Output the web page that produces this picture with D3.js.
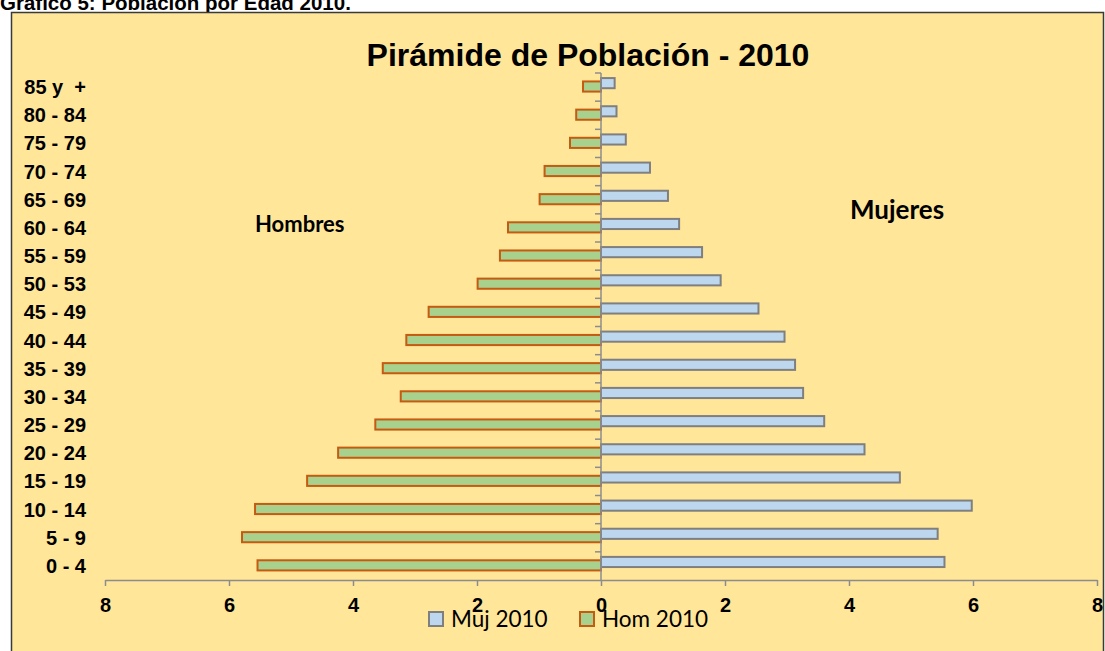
<!DOCTYPE html>
<html>
<head>
<meta charset="utf-8">
<script src="https://cdn.jsdelivr.net/npm/d3@7"></script>
<style>
  html, body { margin: 0; padding: 0; background: #ffffff; }
  svg { display: block; }
</style>
</head>
<body>
<svg id="chart" width="1105" height="651"></svg>
<script>
// Age groups, youngest first
const categories = ["0 - 4", "5 - 9", "10 - 14", "15 - 19", "20 - 24", "25 - 29", "30 - 34",
  "35 - 39", "40 - 44", "45 - 49", "50 - 53", "55 - 59", "60 - 64", "65 - 69", "70 - 74",
  "75 - 79", "80 - 84", "85 y  +"];
// Share of population (%) by age group
const mujeres2010 = [5.54, 5.43, 5.98, 4.82, 4.25, 3.60, 3.26, 3.13, 2.96, 2.54, 1.93, 1.63,
  1.26, 1.08, 0.79, 0.40, 0.25, 0.22];
const hombres2010 = [5.54, 5.79, 5.58, 4.74, 4.24, 3.64, 3.23, 3.52, 3.14, 2.78, 1.99, 1.63,
  1.50, 0.99, 0.91, 0.50, 0.40, 0.29];
const xTicks = [-8, -6, -4, -2, 0, 2, 4, 6, 8];
const seriesNames = ["Muj 2010", "Hom 2010"];

const arial = "'Liberation Sans', Arial, sans-serif";
const calibri = "Lato, 'Open Sans', sans-serif";

const svg = d3.select("#chart");

// Caption above the chart
svg.append("text")
  .attr("x", 0).attr("y", 9.5)
  .attr("font-family", arial).attr("font-weight", "bold").attr("font-size", 20.5)
  .attr("fill", "#000")
  .text("Gráfico 5: Población por Edad 2010.");

// Chart area
svg.append("rect")
  .attr("x", 11.5).attr("y", 12.5).attr("width", 1092).attr("height", 660)
  .attr("fill", "#ffe699").attr("stroke", "#3a3a3a").attr("stroke-width", 1.5);

svg.append("text")
  .attr("x", 588).attr("y", 66)
  .attr("text-anchor", "middle")
  .attr("font-family", arial).attr("font-weight", "bold").attr("font-size", 32)
  .attr("fill", "#000")
  .text("Pirámide de Población - 2010");

const x = d3.scaleLinear().domain([-8, 8]).range([105, 1097]);
const y = d3.scaleBand().domain(categories.slice().reverse()).range([73, 580]).padding(0);
const bw = y.bandwidth();

const rows = categories.map((c, i) => ({ c, muj: mujeres2010[i], hom: hombres2010[i] }));

// Men to the left of zero
svg.append("g").selectAll("rect")
  .data(rows).join("rect")
  .attr("x", d => x(-d.hom))
  .attr("y", d => y(d.c) + bw * 0.30)
  .attr("width", d => x(0) - x(-d.hom))
  .attr("height", bw * 0.36)
  .attr("fill", "#a9d18e").attr("stroke", "#c55a11").attr("stroke-width", 2);

// Women to the right of zero
svg.append("g").selectAll("rect")
  .data(rows).join("rect")
  .attr("x", x(0))
  .attr("y", d => y(d.c) + bw * 0.18)
  .attr("width", d => x(d.muj) - x(0))
  .attr("height", bw * 0.36)
  .attr("fill", "#bdd7ee").attr("stroke", "#7f7f7f").attr("stroke-width", 2);

// Horizontal value axis
const xAxis = svg.append("g")
  .attr("transform", "translate(0,580)")
  .call(d3.axisBottom(x).tickValues(xTicks).tickFormat(d => Math.abs(d)).tickSize(6).tickSizeOuter(0));
xAxis.select(".domain").attr("stroke", "#8c8c8c").attr("stroke-width", 1.5);
xAxis.selectAll(".tick line").attr("stroke", "#8c8c8c").attr("stroke-width", 1.5);
xAxis.selectAll(".tick text")
  .attr("y", 32).attr("dy", 0)
  .attr("font-family", arial).attr("font-weight", "bold").attr("font-size", 20).attr("fill", "#000");

// Vertical category axis at zero with ticks between groups
const yAxisG = svg.append("g");
yAxisG.append("line")
  .attr("x1", x(0)).attr("x2", x(0)).attr("y1", y.range()[0]).attr("y2", y.range()[1])
  .attr("stroke", "#8c8c8c").attr("stroke-width", 1.5);
yAxisG.selectAll("line.tk")
  .data(y.domain()).join("line").attr("class", "tk")
  .attr("x1", x(0) - 6).attr("x2", x(0))
  .attr("y1", d => y(d)).attr("y2", d => y(d))
  .attr("stroke", "#8c8c8c").attr("stroke-width", 1.5);

// Category labels at the left
svg.append("g").selectAll("text")
  .data(categories).join("text")
  .attr("x", 86)
  .attr("y", d => y(d) + bw / 2 + 7)
  .attr("text-anchor", "end")
  .attr("font-family", arial).attr("font-weight", "bold").attr("font-size", 20)
  .attr("fill", "#000")
  .style("white-space", "pre")
  .text(d => d);

// Side labels
svg.append("text")
  .attr("x", 255).attr("y", 232)
  .attr("font-family", calibri).attr("font-weight", "bold").attr("font-size", 22)
  .attr("fill", "#000").text("Hombres");
svg.append("text")
  .attr("x", 850).attr("y", 219)
  .attr("font-family", calibri).attr("font-weight", "bold").attr("font-size", 26)
  .attr("fill", "#000").text("Mujeres");

// Legend
const legend = [
  { name: seriesNames[0], fill: "#bdd7ee", stroke: "#7f7f7f", sx: 429, tx: 451 },
  { name: seriesNames[1], fill: "#a9d18e", stroke: "#c55a11", sx: 580, tx: 602 }
];
const lg = svg.append("g").selectAll("g").data(legend).join("g");
lg.append("rect")
  .attr("x", d => d.sx).attr("y", 612).attr("width", 14).attr("height", 14)
  .attr("fill", d => d.fill).attr("stroke", d => d.stroke).attr("stroke-width", 2);
lg.append("text")
  .attr("x", d => d.tx).attr("y", 627)
  .attr("font-family", calibri).attr("font-size", 22.5).attr("fill", "#000")
  .text(d => d.name);
</script>
</body>
</html>
